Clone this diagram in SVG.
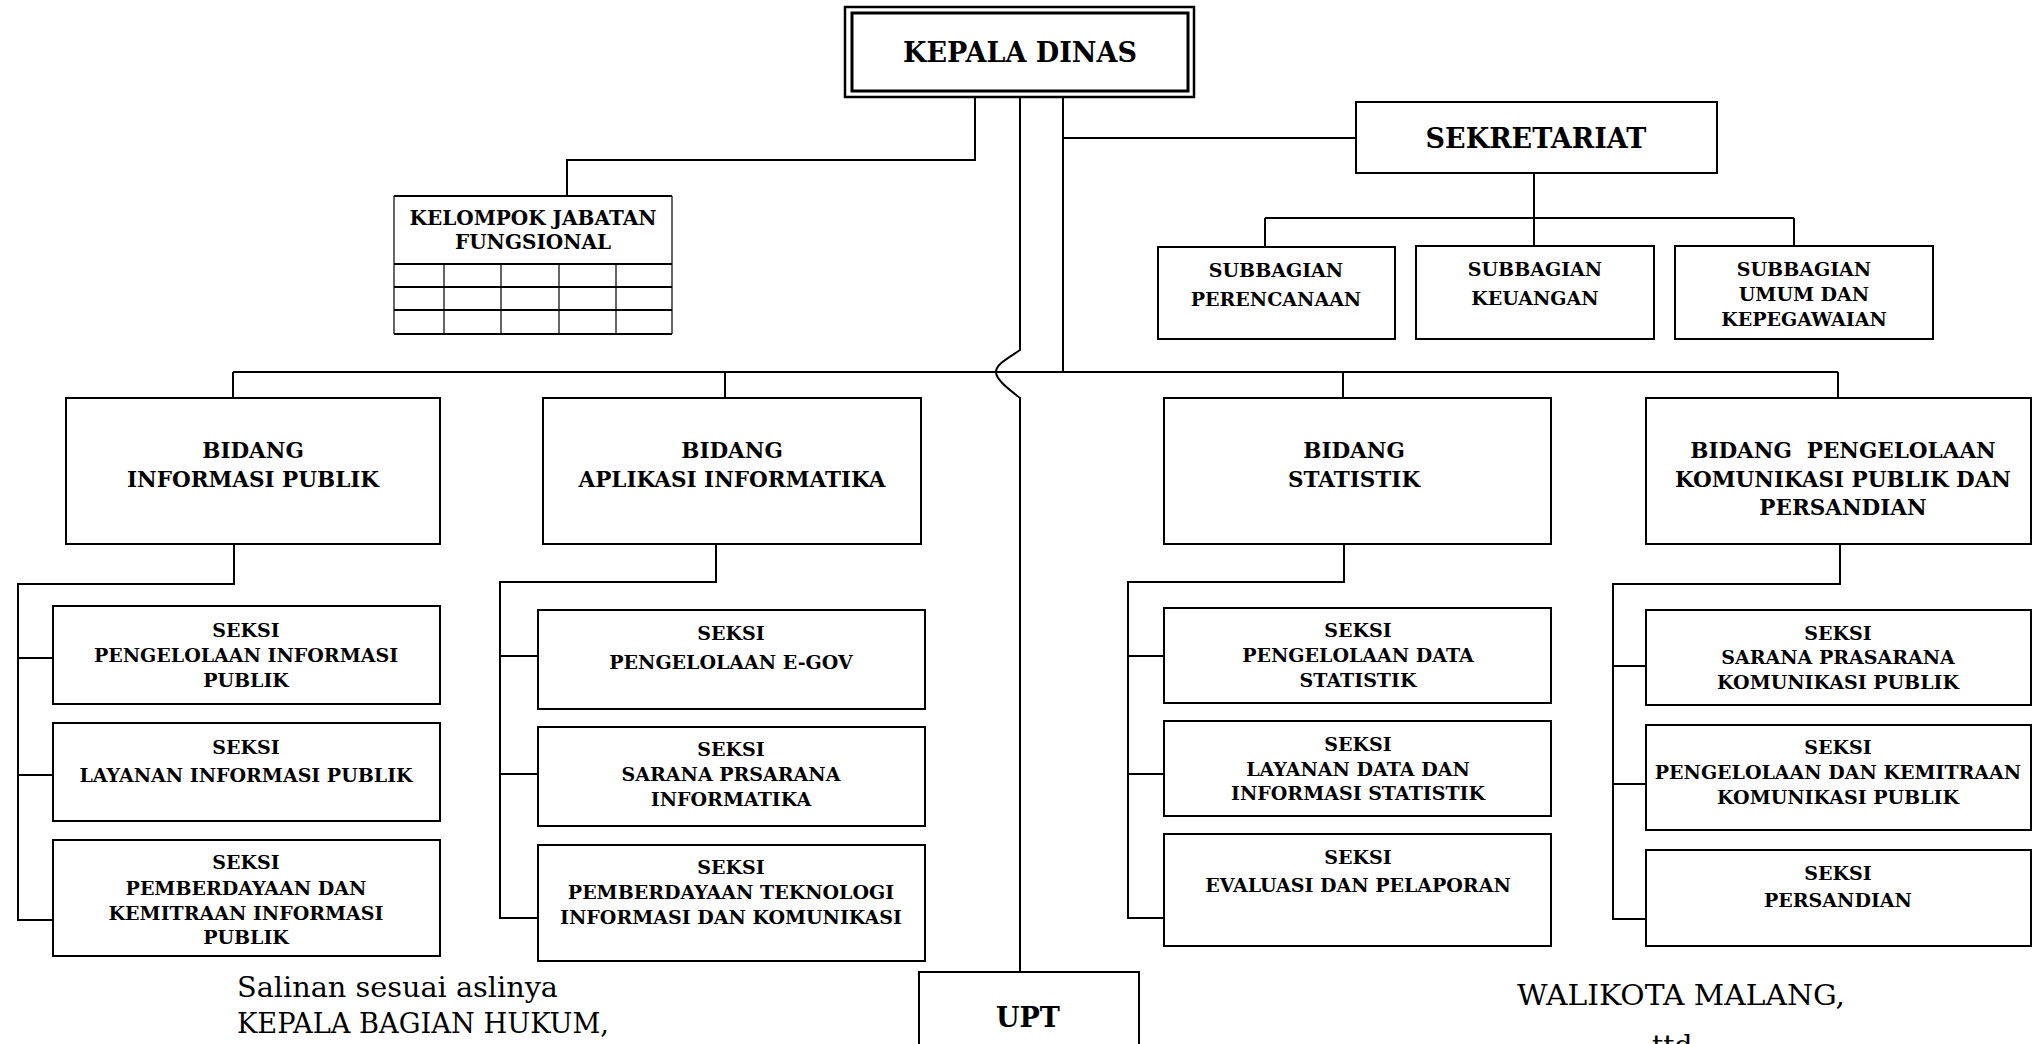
<svg xmlns="http://www.w3.org/2000/svg" width="2033" height="1044" viewBox="0 0 2033 1044">
<style>
.bg{fill:#fff}
.box{fill:#fff;stroke:#000;stroke-width:2}
.ln{fill:none;stroke:#000;stroke-width:2}
.thin{fill:none;stroke:#000;stroke-width:1.2}
text{font-family:"DejaVu Serif","Liberation Serif",serif;font-weight:bold;text-anchor:middle;fill:#000}
.t27{font-size:27px}
.t20{font-size:21.5px}
.t19{font-size:19px}
.t18{font-size:19px}
.t17{font-size:20px}
.foot{font-weight:normal;font-size:28px;text-anchor:start}
</style>
<rect class="bg" x="0" y="0" width="2033" height="1044"/>

<g id="connectors">
<path class="ln" d="M975,97 V160 H567 V196"/>
<path class="ln" d="M1020,97 V350 C1010,357 996,364 996,372 C996,380 1010,390 1020,398 V972"/>
<path class="ln" d="M1063,97 V372 M1063,138 H1356"/>
<path class="ln" d="M233,372 H1838 M233,372 V398 M725,372 V398 M1343,372 V398 M1838,372 V398"/>
<path class="ln" d="M1534,173 V218 M1265,218 H1794 M1265,218 V247 M1534,218 V246 M1794,218 V246"/>
<path class="ln" d="M234,544 V584 H18 V920 H53 M18,658 H53 M18,775 H53"/>
<path class="ln" d="M716,544 V582 H500 V918 H538 M500,656 H538 M500,774 H538"/>
<path class="ln" d="M1344,544 V582 H1128 V918 H1164 M1128,656 H1164 M1128,774 H1164"/>
<path class="ln" d="M1840,544 V584 H1613 V919 H1646 M1613,666 H1646 M1613,784 H1646"/>
</g>

<g id="kepala-dinas">
<rect x="845" y="7" width="349" height="90" fill="#fff" stroke="#000" stroke-width="2.5"/>
<rect x="852" y="13" width="336" height="78" fill="none" stroke="#000" stroke-width="3"/>
<text class="t27" x="1020" y="62">KEPALA DINAS</text>
</g>

<g id="kelompok-jabatan-fungsional">
<rect x="394" y="196" width="278" height="138" fill="#fff" stroke="none"/>
<path class="ln" d="M394,196 H672 M394,264 H672 M394,287 H672 M394,310 H672 M394,334 H672"/>
<path class="thin" d="M394,196 V334 M672,196 V334 M444,264 V334 M501,264 V334 M559,264 V334 M616,264 V334"/>
<text class="t17" x="533" y="225">KELOMPOK JABATAN</text>
<text class="t17" x="533" y="249">FUNGSIONAL</text>
</g>

<g id="sekretariat">
<rect class="box" x="1356" y="102" width="361" height="71"/>
<text class="t27" x="1536" y="148">SEKRETARIAT</text>
</g>

<g id="subbagian-perencanaan">
<rect class="box" x="1158" y="247" width="237" height="92"/>
<text class="t19" x="1276" y="277">SUBBAGIAN</text>
<text class="t19" x="1276" y="306">PERENCANAAN</text>
</g>
<g id="subbagian-keuangan">
<rect class="box" x="1416" y="246" width="238" height="93"/>
<text class="t19" x="1535" y="276">SUBBAGIAN</text>
<text class="t19" x="1535" y="305">KEUANGAN</text>
</g>
<g id="subbagian-umum">
<rect class="box" x="1675" y="246" width="258" height="93"/>
<text class="t19" x="1804" y="276">SUBBAGIAN</text>
<text class="t19" x="1804" y="301">UMUM DAN</text>
<text class="t19" x="1804" y="326">KEPEGAWAIAN</text>
</g>

<g id="bidang-informasi-publik">
<rect class="box" x="66" y="398" width="374" height="146"/>
<text class="t20" x="253" y="458">BIDANG</text>
<text class="t20" x="253" y="487">INFORMASI PUBLIK</text>
</g>
<g id="bidang-aplikasi-informatika">
<rect class="box" x="543" y="398" width="378" height="146"/>
<text class="t20" x="732" y="458">BIDANG</text>
<text class="t20" x="732" y="487">APLIKASI INFORMATIKA</text>
</g>
<g id="bidang-statistik">
<rect class="box" x="1164" y="398" width="387" height="146"/>
<text class="t20" x="1354" y="458">BIDANG</text>
<text class="t20" x="1354" y="487">STATISTIK</text>
</g>
<g id="bidang-pengelolaan">
<rect class="box" x="1646" y="398" width="385" height="146"/>
<text class="t20" x="1843" y="458" xml:space="preserve">BIDANG  PENGELOLAAN</text>
<text class="t20" x="1843" y="487">KOMUNIKASI PUBLIK DAN</text>
<text class="t20" x="1843" y="515">PERSANDIAN</text>
</g>

<g id="seksi-pengelolaan-informasi-publik">
<rect class="box" x="53" y="606" width="387" height="98"/>
<text class="t18" x="246" y="637">SEKSI</text>
<text class="t18" x="246" y="662">PENGELOLAAN INFORMASI</text>
<text class="t18" x="246" y="687">PUBLIK</text>
</g>
<g id="seksi-layanan-informasi-publik">
<rect class="box" x="53" y="723" width="387" height="98"/>
<text class="t18" x="246" y="754">SEKSI</text>
<text class="t18" x="246" y="782">LAYANAN INFORMASI PUBLIK</text>
</g>
<g id="seksi-pemberdayaan-kemitraan">
<rect class="box" x="53" y="840" width="387" height="116"/>
<text class="t18" x="246" y="869">SEKSI</text>
<text class="t18" x="246" y="895">PEMBERDAYAAN DAN</text>
<text class="t18" x="246" y="920">KEMITRAAN INFORMASI</text>
<text class="t18" x="246" y="944">PUBLIK</text>
</g>

<g id="seksi-pengelolaan-egov">
<rect class="box" x="538" y="610" width="387" height="99"/>
<text class="t18" x="731" y="640">SEKSI</text>
<text class="t18" x="731" y="669">PENGELOLAAN E-GOV</text>
</g>
<g id="seksi-sarana-prsarana-informatika">
<rect class="box" x="538" y="727" width="387" height="99"/>
<text class="t18" x="731" y="756">SEKSI</text>
<text class="t18" x="731" y="781">SARANA PRSARANA</text>
<text class="t18" x="731" y="806">INFORMATIKA</text>
</g>
<g id="seksi-pemberdayaan-teknologi">
<rect class="box" x="538" y="845" width="387" height="116"/>
<text class="t18" x="731" y="874">SEKSI</text>
<text class="t18" x="731" y="899">PEMBERDAYAAN TEKNOLOGI</text>
<text class="t18" x="731" y="924">INFORMASI DAN KOMUNIKASI</text>
</g>

<g id="seksi-pengelolaan-data-statistik">
<rect class="box" x="1164" y="608" width="387" height="95"/>
<text class="t18" x="1358" y="637">SEKSI</text>
<text class="t18" x="1358" y="662">PENGELOLAAN DATA</text>
<text class="t18" x="1358" y="687">STATISTIK</text>
</g>
<g id="seksi-layanan-data">
<rect class="box" x="1164" y="721" width="387" height="95"/>
<text class="t18" x="1358" y="751">SEKSI</text>
<text class="t18" x="1358" y="776">LAYANAN DATA DAN</text>
<text class="t18" x="1358" y="800">INFORMASI STATISTIK</text>
</g>
<g id="seksi-evaluasi">
<rect class="box" x="1164" y="834" width="387" height="112"/>
<text class="t18" x="1358" y="864">SEKSI</text>
<text class="t18" x="1358" y="892">EVALUASI DAN PELAPORAN</text>
</g>

<g id="seksi-sarana-prasarana-komunikasi">
<rect class="box" x="1646" y="610" width="385" height="95"/>
<text class="t18" x="1838" y="640">SEKSI</text>
<text class="t18" x="1838" y="664">SARANA PRASARANA</text>
<text class="t18" x="1838" y="689">KOMUNIKASI PUBLIK</text>
</g>
<g id="seksi-pengelolaan-kemitraan">
<rect class="box" x="1646" y="725" width="385" height="105"/>
<text class="t18" x="1838" y="754">SEKSI</text>
<text class="t18" x="1838" y="779">PENGELOLAAN DAN KEMITRAAN</text>
<text class="t18" x="1838" y="804">KOMUNIKASI PUBLIK</text>
</g>
<g id="seksi-persandian">
<rect class="box" x="1646" y="850" width="385" height="96"/>
<text class="t18" x="1838" y="880">SEKSI</text>
<text class="t18" x="1838" y="907">PERSANDIAN</text>
</g>

<g id="upt">
<rect class="box" x="919" y="972" width="220" height="90"/>
<text class="t27" x="1028" y="1027">UPT</text>
</g>

<g id="footer">
<text class="foot" x="237" y="997" textLength="321" lengthAdjust="spacingAndGlyphs">Salinan sesuai aslinya</text>
<text class="foot" x="237" y="1033" textLength="372" lengthAdjust="spacingAndGlyphs">KEPALA BAGIAN HUKUM,</text>
<text class="foot" x="1517" y="1005" textLength="328" lengthAdjust="spacingAndGlyphs">WALIKOTA MALANG,</text>
<text class="foot" x="1652" y="1055">ttd</text>
</g>
</svg>
